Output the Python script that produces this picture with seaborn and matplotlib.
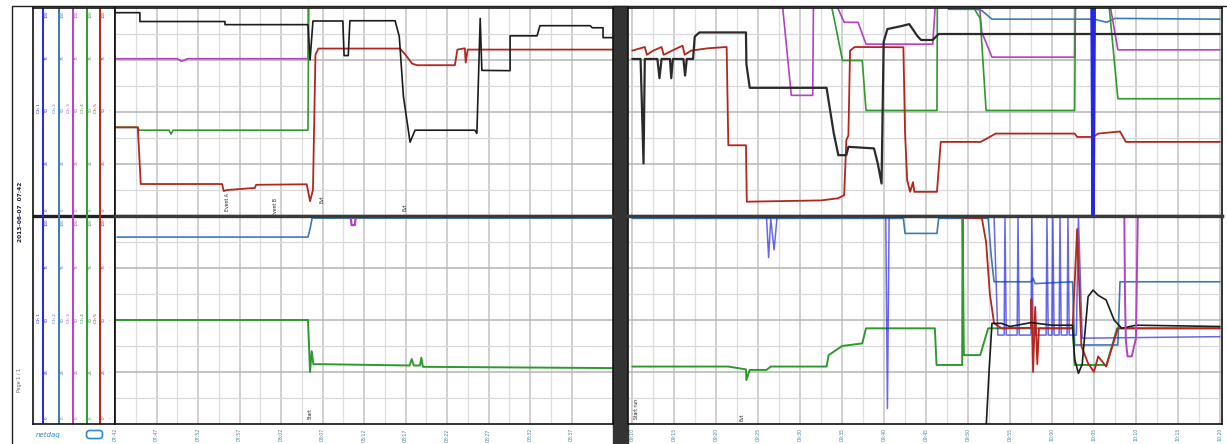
import matplotlib
matplotlib.use('Agg')
import matplotlib.pyplot as plt
import seaborn as sns
from matplotlib.patches import Rectangle, FancyBboxPatch

W, H = 1227, 444

BLACK = '#1c1c1c'
RED = '#b3261e'
MAGENTA = '#b441c4'
GREEN = '#2e9a2e'
STEEL = '#3d7ab5'
BLUE = '#2626e6'

# time labels along the bottom of both panels
left_times = ['07:42', '07:47', '07:52', '07:57', '08:02', '08:07',
              '08:12', '08:17', '08:22', '08:27', '08:32', '08:37']
right_times = ['09:10', '09:15', '09:20', '09:25', '09:30', '09:35', '09:40', '09:45',
               '09:50', '09:55', '10:00', '10:05', '10:10', '10:15', '10:20']

# channel names / scale labels in the left strip
channel_names = ['Ch 1', 'Ch 2', 'Ch 3', 'Ch 4', 'Ch 5']
channel_colors = [BLUE, STEEL, MAGENTA, GREEN, RED]
scale_labels = ['100', '75', '50', '25', '0']

# ---- left panel, upper plot
lt_black_x = [0, 0.6, 0.6, 2.65, 2.65, 4.65, 4.7, 4.77, 5.49, 5.52, 5.62, 5.66, 6.75, 6.85, 6.95, 7.05,
              7.11, 7.23, 8.67, 8.72, 8.80, 8.84, 9.52, 9.52, 10.17, 10.24, 11.45, 11.5, 11.76, 11.76, 12]
lt_black_y = [7.82, 7.82, 7.48, 7.48, 7.36, 7.36, 6.0, 7.5, 7.5, 6.17, 6.17, 7.51, 7.51, 6.9, 4.6, 3.5,
              2.84, 3.30, 3.30, 3.18, 7.6, 5.6, 5.59, 6.93, 6.93, 7.32, 7.32, 7.24, 7.24, 6.86, 6.86]
lt_mag_x = [0, 1.5, 1.6, 1.75, 4.65, 4.66]
lt_mag_y = [6.05, 6.05, 5.95, 6.05, 6.05, 8.6]
lt_green_x = [0, 0.55, 0.58, 1.3, 1.35, 1.4, 4.65, 4.67]
lt_green_y = [3.41, 3.41, 3.30, 3.30, 3.15, 3.30, 3.30, 8.6]
lt_red_x = [0, 0.55, 0.62, 2.58, 2.62, 2.7, 3.37, 3.4, 4.62, 4.7, 4.77, 4.83, 4.9, 6.87, 7.0, 7.16,
            7.28, 8.19, 8.25, 8.43, 8.45, 8.5, 8.9, 12]
lt_red_y = [3.41, 3.41, 1.23, 1.23, 0.96, 1.0, 1.08, 1.2, 1.22, 0.57, 1.0, 6.2, 6.44, 6.44, 6.2, 5.86,
            5.8, 5.8, 6.4, 6.45, 5.9, 6.4, 6.4, 6.4]

# ---- left panel, lower plot
lb_steel_x = [0.05, 4.65, 4.7, 4.75, 12]
lb_steel_y = [7.19, 7.19, 7.5, 7.92, 7.92]
lb_green_x = [0, 4.65, 4.7, 4.74, 4.78, 5.0, 7.1, 7.15, 7.2, 7.35, 7.38, 7.42, 12]
lb_green_y = [4.0, 4.0, 2.0, 2.8, 2.3, 2.3, 2.25, 2.5, 2.25, 2.25, 2.55, 2.2, 2.15]
lb_mag_x = [5.68, 5.70, 5.78, 5.80]
lb_mag_y = [7.95, 7.65, 7.65, 7.95]

# ---- right panel, upper plot
rt_red_x = [0, 0.3, 0.35, 0.5, 0.7, 0.75, 1.0, 1.2, 1.25, 1.4, 1.8, 2.25, 2.29, 2.71, 2.73, 4.5,
            4.9, 5.05, 5.10, 5.15, 5.19, 5.3, 6.46, 6.5, 6.55, 6.62, 6.69, 6.72, 7.26, 7.35, 8.3,
            8.66, 10.54, 10.6, 10.98, 11.1, 11.62, 11.76, 14]
rt_red_y = [6.36, 6.5, 6.2, 6.36, 6.5, 6.2, 6.4, 6.55, 6.2, 6.36, 6.45, 6.5, 2.72, 2.72, 0.55, 0.6,
            0.68, 0.8, 2.91, 3.1, 6.36, 6.5, 6.49, 3.2, 1.38, 0.93, 1.3, 0.93, 0.93, 2.85, 2.85,
            3.17, 3.17, 3.04, 3.04, 3.17, 3.25, 2.85, 2.85]
rt_black_x = [0, 0.2, 0.27, 0.3, 0.6, 0.65, 0.7, 0.9, 0.93, 0.97, 1.22, 1.26, 1.3, 1.45, 1.49, 1.6,
              2.71, 2.72, 2.8, 4.63, 4.8, 4.91, 5.10, 5.15, 5.76, 5.85, 5.94, 5.99, 6.08, 6.4, 6.6,
              6.79, 6.88, 7.16, 7.3, 14]
rt_black_y = [6.04, 6.04, 2.02, 6.04, 6.04, 5.3, 6.04, 6.04, 5.3, 6.04, 6.04, 5.4, 6.04, 6.04, 6.9,
              7.06, 7.06, 5.85, 4.93, 4.93, 3.2, 2.34, 2.34, 2.66, 2.6, 2.02, 1.25, 6.7, 7.19, 7.3,
              7.38, 6.93, 6.77, 6.77, 7.0, 7.0]
rt_mag_x = [3.55, 3.79, 4.30, 4.32, 4.73, 4.96, 5.05, 5.38, 5.57, 7.16, 7.24, 8.24, 8.33, 8.57,
            10.54, 10.56, 11.33, 11.57, 14]
rt_mag_y = [8.6, 4.64, 4.64, 8.6, 8.6, 7.77, 7.45, 7.45, 6.61, 6.61, 8.6, 8.6, 7.06, 6.11,
            6.11, 8.6, 8.6, 6.39, 6.39]
rt_green_x = [4.68, 4.82, 5.01, 5.48, 5.57, 7.26, 7.27, 7.91, 8.29, 8.43, 10.54, 10.56, 11.33, 11.57, 14]
rt_green_y = [8.6, 7.51, 5.98, 5.98, 4.06, 4.06, 8.6, 8.6, 7.6, 4.06, 4.06, 8.6, 8.6, 4.51, 4.51]
rt_steel_x = [7.54, 7.54, 8.2, 8.33, 8.57, 11.0, 11.3, 11.5, 14]
rt_steel_y = [8.6, 7.95, 7.95, 7.9, 7.57, 7.57, 7.45, 7.6, 7.57]
rt_blue_x = [10.95, 10.98, 11.01]
rt_blue_y = [8.6, -0.5, 8.6]

# ---- right panel, lower plot
rb_steel_x = [0, 6.46, 6.5, 7.26, 7.3, 8.48, 8.55, 8.62, 9.5, 9.55, 9.6, 10.49, 10.54, 11.57, 11.62, 14]
rb_steel_y = [7.91, 7.91, 7.33, 7.33, 7.91, 7.91, 6.5, 5.47, 5.47, 5.6, 5.4, 5.47, 3.04, 3.04, 5.47, 5.47]
rb_blue_x = [0, 3.2, 3.25, 3.3, 3.38, 3.45, 6.04, 6.08, 6.12, 8.62, 8.71, 8.86, 8.88, 8.91, 9.17,
             9.19, 9.22, 9.50, 9.52, 9.55, 9.86, 9.88, 9.91, 10.0, 10.02, 10.05, 10.17, 10.19,
             10.22, 10.36, 10.38, 10.41, 10.58, 10.63, 10.72, 14]
rb_blue_y = [7.95, 7.95, 6.4, 7.9, 6.7, 7.95, 7.95, 0.6, 7.95, 7.95, 3.42, 3.42, 7.95, 3.42, 3.42,
             7.95, 3.42, 3.42, 7.95, 3.42, 3.42, 7.95, 3.42, 3.42, 7.95, 3.42, 3.42, 7.95,
             3.42, 3.42, 7.95, 3.42, 3.42, 7.95, 3.3, 3.36]
rb_black_x = [8.42, 8.5, 8.57, 8.8, 9.0, 9.5, 10.0, 10.49, 10.54, 10.63, 10.72, 10.86, 10.98, 11.1,
              11.29, 11.48, 11.66, 12.0, 14]
rb_black_y = [-0.5, 2.0, 3.87, 3.87, 3.75, 3.9, 3.8, 3.8, 2.5, 1.95, 2.3, 4.9, 5.15, 4.95,
              4.77, 4.0, 3.68, 3.8, 3.75]
rb_red_x = [7.45, 8.33, 8.43, 8.52, 8.62, 8.8, 9.5, 9.51, 9.55, 9.6, 9.65, 9.69, 10.49, 10.6, 10.7,
            10.86, 11.0, 11.1, 11.29, 11.57, 14]
rb_red_y = [7.97, 7.91, 7.0, 5.0, 3.87, 3.68, 3.7, 4.8, 2.0, 4.5, 2.3, 3.68, 3.68, 7.5, 3.0,
            2.33, 2.0, 2.6, 2.21, 3.68, 3.68]
rb_green_x = [0, 2.29, 2.71, 2.72, 2.8, 3.2, 3.3, 4.63, 4.68, 5.0, 5.48, 5.57, 7.21, 7.25, 7.86,
              7.87, 7.90, 8.29, 8.48, 10.5, 10.54, 11.3, 11.55, 14]
rb_green_y = [2.21, 2.21, 2.1, 1.69, 2.08, 2.08, 2.21, 2.21, 2.65, 3.0, 3.1, 3.68, 3.68, 2.27, 2.27,
              7.97, 2.65, 2.65, 3.68, 3.68, 2.27, 2.27, 3.68, 3.68]
rb_mag_x = [11.72, 11.74, 11.76, 11.8, 11.9, 12.0, 12.05]
rb_mag_y = [8.6, 4.8, 3.2, 2.6, 2.6, 3.3, 8.6]

# event markers: (panel, x, y, text)
events = [('lt', 2.72, 0.2, 'Event A'), ('lt', 3.86, 0.0, 'Event B'), ('lt', 5.0, 0.5, 'Evt'),
          ('lt', 6.99, 0.2, 'Evt'), ('lb', 4.7, 0.2, 'Start'), ('rb', 0.1, 0.2, 'Start run'),
          ('rb', 2.62, 0.1, 'Evt')]

sns.set_theme(style="white")
plt.rcParams['font.family'] = ['DejaVu Sans']

fig = plt.figure(figsize=(W / 100, H / 100), dpi=100)


def px_axes(x0, y0, x1, y1):
    return fig.add_axes([x0 / W, 1 - y1 / H, (x1 - x0) / W, (y1 - y0) / H])


def style_plot(ax, xlim, nticks, top):
    ax.set_xticks(range(nticks))
    ax.set_xticks([i + 0.5 for i in range(nticks - 1)], minor=True)
    ax.set_yticks([2, 4, 6])
    ax.set_yticks([1, 3, 5, 7], minor=True)
    # limits after the ticks, otherwise set_xticks widens the view
    ax.set_xlim(*xlim)
    ax.set_ylim(0, 8)
    ax.xaxis.grid(True, which='major', color='#c2c2c2', lw=1.1)
    ax.xaxis.grid(True, which='minor', color='#dddddd', lw=0.9)
    ax.yaxis.grid(True, which='major', color='#b4b4b4', lw=1.1)
    ax.yaxis.grid(True, which='minor', color='#d8d8d8', lw=0.9)
    ax.set_axisbelow(True)
    ax.tick_params(which='both', length=0, labelleft=False, labelbottom=False)
    ax.set_xlabel('')
    ax.set_ylabel('')
    for s in ax.spines.values():
        s.set_color('#111111')
        s.set_linewidth(1.2)
    if top:
        ax.spines['bottom'].set_linewidth(2.4)
        ax.spines['bottom'].set_color('#3a3a3a')
    else:
        ax.spines['top'].set_linewidth(2.4)
        ax.spines['top'].set_color('#3a3a3a')


def trace(ax, xs, ys, color, lw=1.2, alpha=1.0):
    sns.lineplot(x=xs, y=ys, sort=False, estimator=None, color=color, lw=lw,
                 alpha=alpha, ax=ax, legend=False)


# background canvas in pixel units for frames and the separator bar
bg = fig.add_axes([0, 0, 1, 1], zorder=-5)
bg.set_xlim(0, W)
bg.set_ylim(H, 0)
bg.axis('off')
bg.plot([12, W], [6, 6], color='#222222', lw=1.0)
bg.plot([12, 12], [6, H], color='#222222', lw=1.0)
bg.add_patch(Rectangle((613, 6), 15, H - 6, color='#333333'))
bg.text(20, 212, '2013-06-07  07:42', rotation=90, fontsize=4.2, fontweight='bold',
        color='#1a1a3a', ha='center', va='center')
bg.text(20, 380, 'Page 1 / 1', rotation=90, fontsize=3.5, color='#666666', ha='center', va='center')
bg.text(36, 435, 'netdaq', fontsize=5, style='italic', color='#2a8ad8', va='center')
bg.add_patch(FancyBboxPatch((87, 431), 15, 7, boxstyle='round,pad=0.5,rounding_size=3',
                            fc='white', ec='#2a8ad8', lw=1.2))

# left strip with the channel axis lines
strip = px_axes(33, 8, 115, 424)
strip.set_xlim(33, 115)
strip.set_ylim(424, 8)
strip.set_xticks([])
strip.set_yticks([])
for s in strip.spines.values():
    s.set_color('#111111')
    s.set_linewidth(1.2)
strip.axhline(216, color='#222222', lw=2.4)
line_px = [43, 59, 73, 87, 100]
for lx, c in zip(line_px, channel_colors):
    strip.axvline(lx, color=c, lw=1.4)
for lx, c, name in zip(line_px, channel_colors, channel_names):
    for yc in (108, 318):
        strip.text(lx - 4, yc, name, rotation=90, fontsize=3.2, color=c, ha='center', va='center')
    for yp, lab in zip([14, 58, 110, 163, 210], scale_labels):
        strip.text(lx + 4, yp, lab, rotation=90, fontsize=2.8, color=c, ha='center', va='center')
    for yp, lab in zip([222, 267, 320, 372, 418], scale_labels):
        strip.text(lx + 4, yp, lab, rotation=90, fontsize=2.8, color=c, ha='center', va='center')
for yp in [14, 58, 110, 163, 210, 222, 267, 320, 372, 418]:
    strip.text(110, yp, '-', fontsize=3, color='#555555', ha='center', va='center')

# plot panels
ax_lt = px_axes(115, 8, 613, 216)
ax_lb = px_axes(115, 216, 613, 424)
ax_rt = px_axes(628, 8, 1222, 216)
ax_rb = px_axes(628, 216, 1222, 424)

trace(ax_lt, lt_mag_x, lt_mag_y, MAGENTA)
trace(ax_lt, lt_green_x, lt_green_y, GREEN)
trace(ax_lt, lt_red_x, lt_red_y, RED, lw=1.3)
trace(ax_lt, lt_black_x, lt_black_y, BLACK)

trace(ax_lb, lb_steel_x, lb_steel_y, STEEL)
trace(ax_lb, lb_green_x, lb_green_y, GREEN, lw=1.4)
trace(ax_lb, lb_mag_x, lb_mag_y, MAGENTA, lw=1.6)

trace(ax_rt, rt_steel_x, rt_steel_y, STEEL)
trace(ax_rt, rt_mag_x, rt_mag_y, MAGENTA)
trace(ax_rt, rt_green_x, rt_green_y, GREEN)
trace(ax_rt, rt_red_x, rt_red_y, RED, lw=1.3)
trace(ax_rt, rt_black_x, rt_black_y, '#2a2a2a', lw=1.6)
trace(ax_rt, rt_blue_x, rt_blue_y, BLUE, lw=2.4)

trace(ax_rb, rb_steel_x, rb_steel_y, STEEL)
trace(ax_rb, rb_green_x, rb_green_y, GREEN, lw=1.4)
trace(ax_rb, rb_blue_x, rb_blue_y, BLUE, lw=1.1, alpha=0.7)
trace(ax_rb, rb_red_x, rb_red_y, RED, lw=1.3)
trace(ax_rb, rb_black_x, rb_black_y, BLACK)
trace(ax_rb, rb_mag_x, rb_mag_y, MAGENTA, lw=1.4)

style_plot(ax_lt, (0, 12), 12, True)
style_plot(ax_lb, (0, 12), 12, False)
style_plot(ax_rt, (-0.1, 14.05), 15, True)
style_plot(ax_rb, (-0.1, 14.05), 15, False)

for ax, labels, xlim in ((ax_lb, left_times, (0, 12)), (ax_rb, right_times, (-0.1, 14.05))):
    ax.set_xticks(range(len(labels)))
    ax.set_xticklabels(labels, rotation=90, fontsize=3.3, color='#3f8796')
    ax.set_xlim(*xlim)
    ax.tick_params(axis='x', which='major', labelbottom=True, pad=3)

panels = {'lt': ax_lt, 'lb': ax_lb, 'rb': ax_rb}
for key, ex, ey, txt in events:
    panels[key].text(ex, ey, txt, rotation=90, fontsize=3.3, color='#222222',
                     ha='center', va='bottom', clip_on=False)

plt.savefig('out.png', dpi=100)
plt.close()
